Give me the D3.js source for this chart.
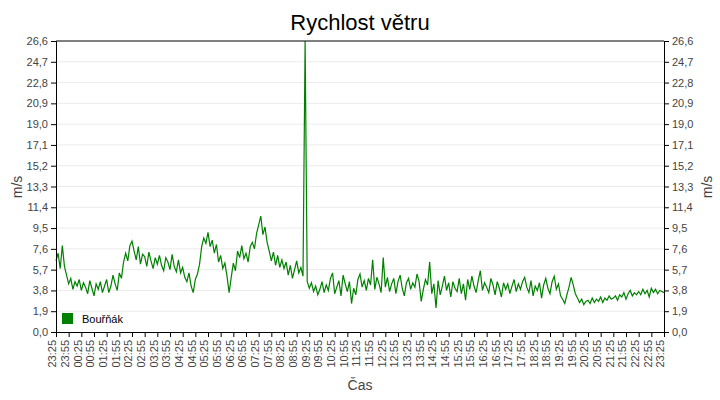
<!DOCTYPE html>
<html><head><meta charset="utf-8">
<script src="https://cdn.jsdelivr.net/npm/d3@7"></script>
<style>body{margin:0;background:#fff}svg{font-family:"Liberation Sans",Arial,sans-serif}</style>
</head><body><svg id="c" width="720" height="400"></svg>
<script>
const title = "Rychlost větru";
const seriesName = "Bouřňák";
const yTicks = [0.0,1.9,3.8,5.7,7.6,9.5,11.4,13.3,15.2,17.1,19.0,20.9,22.8,24.7,26.6];
const xLabels = ["23:25","23:55","00:25","00:55","01:25","01:55","02:25","02:55","03:25","03:55","04:25","04:55","05:25","05:55","06:25","06:55","07:25","07:55","08:25","08:55","09:25","09:55","10:25","10:55","11:25","11:55","12:25","12:55","13:25","13:55","14:25","14:55","15:25","15:55","16:25","16:55","17:25","17:55","18:25","18:55","19:25","19:55","20:25","20:55","21:25","21:55","22:25","22:55","23:25"];
// wind speed every 5 minutes, 23:25 -> 23:25
const speed = [
6.5,7.2,5.8,7.9,6.0,5.2,4.4,4.9,3.9,4.6,4.2,4.8,
3.8,4.5,4.1,3.5,4.7,4.0,3.3,4.4,3.9,4.6,3.6,4.2,
4.8,3.6,4.2,5.2,4.4,3.8,5.4,4.9,6.4,7.2,6.5,7.9,
8.3,7.4,6.6,7.8,6.2,7.1,6.9,6.0,7.3,6.5,5.8,6.8,
6.2,7.0,6.1,5.6,6.8,6.4,5.7,7.1,6.0,5.5,6.6,5.4,
5.9,5.0,4.6,5.4,4.2,3.6,4.8,5.3,6.2,7.8,8.6,8.1,
9.1,7.8,8.4,7.2,8.0,6.4,7.0,5.8,6.3,5.1,3.6,5.0,
6.3,5.6,7.4,6.8,7.9,6.7,7.2,6.4,7.8,8.2,7.6,9.0,
9.8,10.6,8.9,9.6,8.2,7.4,6.5,7.3,6.1,7.0,5.9,6.6,
5.8,6.4,5.2,6.1,4.9,5.7,6.5,5.4,5.9,5.1,26.6,4.6,
4.0,4.5,3.7,4.2,3.4,3.9,4.6,3.6,4.3,3.8,4.9,5.4,
3.5,4.1,4.7,3.3,5.2,4.4,3.7,4.6,2.6,4.0,3.4,4.8,
5.3,4.1,4.7,3.8,4.9,4.3,6.6,3.9,5.0,4.4,3.6,6.8,
4.1,5.0,3.7,4.4,4.9,3.5,4.6,5.2,4.0,3.3,4.5,4.9,
3.9,4.5,4.1,5.3,4.6,2.8,3.9,4.8,4.3,6.4,3.5,4.4,
2.2,4.7,3.4,4.2,5.1,3.8,4.5,3.2,4.6,4.0,3.7,4.9,
3.5,4.4,2.9,4.8,3.9,5.1,4.2,3.6,4.7,5.6,3.8,4.5,
4.1,3.6,4.9,4.3,3.4,4.6,4.0,3.2,4.5,3.9,4.4,3.5,
4.2,4.8,3.7,4.4,3.9,4.6,5.0,4.1,3.6,4.7,3.3,4.2,
3.8,4.5,3.1,4.3,4.9,4.0,3.5,4.6,5.1,3.9,4.4,3.3,
3.0,2.6,3.4,4.1,5.0,4.3,3.5,3.1,2.7,3.0,2.5,2.8,
2.9,2.6,3.1,2.7,3.0,2.8,3.2,2.7,3.1,2.9,3.3,3.0,
3.1,3.3,2.9,3.4,3.2,3.6,3.0,3.5,3.8,3.3,3.6,3.4,
3.7,3.4,3.9,3.5,3.8,3.2,4.0,3.6,3.9,3.5,3.8,3.7,3.6];

const svg = d3.select("#c");
const L=56, R=664, T=41, B=332;
const x = d3.scaleLinear().domain([0, speed.length-1]).range([L,R]);
const xl = d3.scaleLinear().domain([0, xLabels.length-1]).range([L,R]);
const y = d3.scaleLinear().domain([0,26.6]).range([B,T]);

svg.append("g").selectAll("line").data(yTicks.slice(1,-1)).join("line")
  .attr("x1",L).attr("x2",R).attr("y1",d=>y(d)).attr("y2",d=>y(d))
  .attr("stroke","#ebebeb");

svg.append("path").datum(speed)
  .attr("d", d3.line().x((d,i)=>x(i)).y(d=>y(d)))
  .attr("fill","none").attr("stroke","#008000").attr("stroke-width",1.2);

const fmt = d=>d.toFixed(1).replace(".",",");
const ga = svg.append("g").attr("transform",`translate(${L},0)`).call(d3.axisLeft(y).tickValues(yTicks).tickFormat(fmt).tickSize(5).tickPadding(3));
const gb = svg.append("g").attr("transform",`translate(${R},0)`).call(d3.axisRight(y).tickValues(yTicks).tickFormat(fmt).tickSize(5).tickPadding(3));
const gx = svg.append("g").attr("transform",`translate(0,${B})`).call(d3.axisBottom(xl).tickValues(d3.range(xLabels.length)).tickFormat(i=>xLabels[i]).tickSize(5));
gx.selectAll("text").attr("transform","rotate(-90)").attr("text-anchor","end").attr("x",-8).attr("y",-4).attr("dy","0.35em");
[ga,gb,gx].forEach(g=>{g.selectAll("text").attr("fill","#444").style("font-size","11px").style("font-family","'Liberation Sans',Arial,sans-serif");g.selectAll("line,path").attr("stroke","#000");});
svg.append("line").attr("x1",L).attr("x2",R).attr("y1",T).attr("y2",T).attr("stroke","#000");

svg.append("text").attr("x",360).attr("y",30).attr("text-anchor","middle").style("font-size","22px").attr("fill","#000").text(title);
svg.append("text").attr("transform","translate(22,187) rotate(-90)").attr("text-anchor","middle").style("font-size","14px").attr("fill","#444").text("m/s");
svg.append("text").attr("transform","translate(712,187) rotate(-90)").attr("text-anchor","middle").style("font-size","14px").attr("fill","#444").text("m/s");
svg.append("text").attr("x",360).attr("y",390).attr("text-anchor","middle").style("font-size","14px").attr("fill","#444").text("Čas");
svg.append("rect").attr("x",62).attr("y",313).attr("width",11).attr("height",11).attr("fill","#008000");
svg.append("text").attr("x",82).attr("y",323).style("font-size","11px").attr("fill","#000").text(seriesName);
</script></body></html>
